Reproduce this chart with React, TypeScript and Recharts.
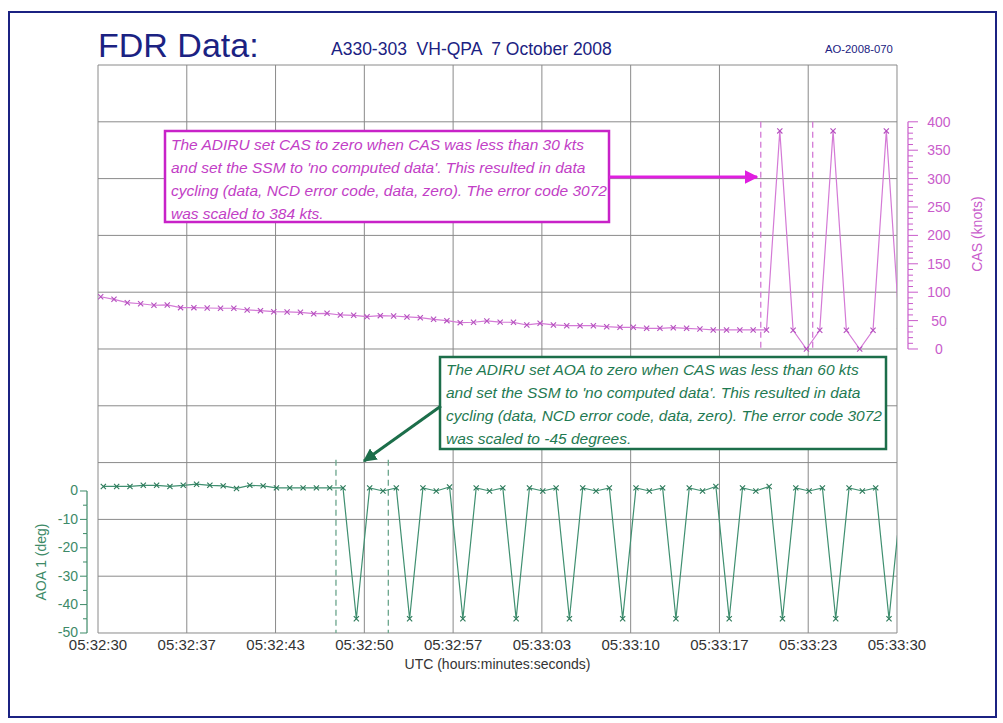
import React from "react";
import { ComposedChart, Line, XAxis, YAxis, CartesianGrid, ReferenceLine } from "recharts";

// page + plot frame
const W = 1003;
const H = 723;
const PLOT_LEFT = 98;
const PLOT_TOP = 65;
const PLOT_RIGHT = 897;
const PLOT_BOTTOM = 633;
const PLOT_H = PLOT_BOTTOM - PLOT_TOP;
const THIN = 0.01; // axes must have a size > 0 to render, keep it ~0

const FONT = "'Liberation Sans', Arial, sans-serif";

// colours
const NAVY = "#1b2282";
const GRID = "#8a8a8a";
const CAS_LINE = "#d47ad6";
const CAS_MARK = "#b54fbf";
const CAS_AXIS = "#c95ccb";
const CAS_NOTE = "#c23ec6";
const CAS_BOX = "#c822c8";
const AOA_LINE = "#3f8f70";
const AOA_MARK = "#2c7a5a";
const AOA_AXIS = "#3d8a68";
const AOA_NOTE = "#1f7a52";
const AOA_BOX = "#1c6e4a";

// axis domains (each grid row = 100 kts / 20 deg)
const CAS_DOMAIN = [-500, 500];
const AOA_DOMAIN = [-50, 150];
const TIME_DOMAIN = [0, 60];

// x axis: seconds after 05:32:30
const timeLabels = [
  "05:32:30", "05:32:37", "05:32:43", "05:32:50", "05:32:57",
  "05:33:03", "05:33:10", "05:33:17", "05:33:23", "05:33:30",
];
const timeTicks = timeLabels.map((_, i) => (i * 60) / 9);
const timeMinorTicks = Array.from({ length: 28 }, (_, i) => (i * 60) / 27);

const casTicks = Array.from({ length: 41 }, (_, i) => i * 10); // 0..400
const aoaTicks = Array.from({ length: 11 }, (_, i) => -50 + i * 5); // -50..0
const gridRows = Array.from({ length: 11 }, (_, i) => -500 + i * 100);
const rowMinorTicks = Array.from({ length: 51 }, (_, i) => i);

// 1 Hz samples
const CAS_OFFSET = 0.2;
const AOA_OFFSET = 0.4;

const casValues = [
  92, 87.5, 81.5, 79.7, 77, 77.5, 72.8, 72.8, 72.2, 71.7,
  71.7, 68.7, 67.5, 65.7, 65.2, 64.6, 62.2, 62.8, 59.9, 59.3,
  56.9, 58.7, 58.1, 56.4, 55.1, 52.3, 49.9, 46.4, 47.1, 49.4,
  47.3, 47, 42.3, 45.2, 42.3, 41, 41, 41, 39.3, 38.2,
  38.2, 36.4, 36.4, 37.5, 36.4, 35.2, 33.5, 33.5, 33.5, 33.5,
  33.5, 384, 33, 0, 33, 384, 33, 0, 33, 384,
  33,
];

const aoaValues = [
  1.6, 1.6, 1.6, 2.0, 2.0, 1.6, 2.0, 2.4, 2.0, 1.8,
  0.9, 2.0, 1.8, 1.1, 1.1, 1.1, 1.1, 1.1, 1.1, -45,
  1.1, 0, 1.1, -45, 1.1, 0, 1.4, -45, 1.1, 0,
  1.1, -45, 1.1, 0, 1.1, -45, 1.1, 0, 1.1, -45,
  1.1, 0, 1.1, -45, 1.1, 0, 1.6, -45, 1.1, 0,
  1.6, -45, 1.1, 0, 1.1, -45, 1.1, 0, 1.1, -45,
  1.1,
];

// dashed markers (seconds)
const casCycleStart = [49.77, 53.67];
const aoaCycleStart = [17.87, 21.8];

const casData = casValues.map((cas, i) => ({ t: i + CAS_OFFSET, cas }));
const aoaData = aoaValues.map((aoa, i) => ({ t: i + AOA_OFFSET, aoa }));

const casStepPx = (PLOT_H * 10) / (CAS_DOMAIN[1] - CAS_DOMAIN[0]);
const aoaStepPx = (PLOT_H * 5) / (AOA_DOMAIN[1] - AOA_DOMAIN[0]);

const makeCross = (color: string) => (props: any) => {
  const { cx, cy, index } = props;
  if (cx == null || cy == null) return <g key={`x-${index}`} />;
  const s = 2.6;
  return (
    <path
      key={`x-${index}`}
      d={`M${cx - s},${cy - s}L${cx + s},${cy + s}M${cx - s},${cy + s}L${cx + s},${cy - s}`}
      stroke={color}
      strokeWidth={1.1}
      fill="none"
    />
  );
};

// CAS scale sits right of the frame, 0..400 only
const CasTick = (props: any) => {
  const { x, y, payload } = props;
  const v = payload.value;
  const ax = x + 11;
  const major = v % 50 === 0;
  return (
    <g>
      {v < 400 && <line x1={ax} x2={ax} y1={y} y2={y - casStepPx} stroke={CAS_AXIS} strokeWidth={1.2} />}
      <line x1={ax} x2={ax + (major ? 10 : 5)} y1={y} y2={y} stroke={CAS_AXIS} strokeWidth={1} />
      {major && (
        <text x={ax + 31} y={y + 5} textAnchor="middle" fill={CAS_AXIS} fontSize={14} fontFamily={FONT}>
          {v}
        </text>
      )}
    </g>
  );
};

// AOA scale left of the frame, -50..0 only
const AoaTick = (props: any) => {
  const { x, y, payload } = props;
  const v = payload.value;
  const ax = x - 11;
  const major = v % 10 === 0;
  return (
    <g>
      {v < 0 && <line x1={ax} x2={ax} y1={y} y2={y - aoaStepPx} stroke={AOA_AXIS} strokeWidth={1.2} />}
      <line x1={ax - (major ? 7 : 4)} x2={ax} y1={y} y2={y} stroke={AOA_AXIS} strokeWidth={1} />
      {major && (
        <text x={ax - 9} y={y + 4.5} textAnchor="end" fill={AOA_AXIS} fontSize={14} fontFamily={FONT}>
          {v}
        </text>
      )}
    </g>
  );
};

const casNote = [
  "The ADIRU set CAS to zero when CAS was less than 30 kts",
  "and set the SSM to 'no computed data'. This resulted in data",
  "cycling (data, NCD error code, data, zero). The error code 3072",
  "was scaled to 384 kts.",
];
const aoaNote = [
  "The ADIRU set AOA to zero when CAS was less than 60 kts",
  "and set the SSM to 'no computed data'. This resulted in data",
  "cycling (data, NCD error code, data, zero). The error code 3072",
  "was scaled to -45 degrees.",
];

const Overlay = () => (
  <svg
    width={W}
    height={H}
    style={{ position: "absolute", left: 0, top: 0, pointerEvents: "none" }}
    fontFamily={FONT}
  >
    <defs>
      <marker id="headPink" viewBox="0 0 10 10" refX="9" refY="5" markerWidth="4.5" markerHeight="4.5" orient="auto">
        <path d="M0,0L10,5L0,10z" fill="#e01ee0" />
      </marker>
      <marker id="headGreen" viewBox="0 0 10 10" refX="9" refY="5" markerWidth="4.5" markerHeight="4.5" orient="auto">
        <path d="M0,0L10,5L0,10z" fill={AOA_BOX} />
      </marker>
    </defs>

    <rect x={9} y={12} width={987} height={705} fill="none" stroke={NAVY} strokeWidth={2} />

    <text x={98} y={57} fontSize={34} fill={NAVY}>FDR Data:</text>
    <text x={331} y={55} fontSize={17.5} fill={NAVY} style={{ whiteSpace: "pre" }}>
      A330-303  VH-QPA  7 October 2008
    </text>
    <text x={825} y={53} fontSize={11.3} fill={NAVY}>AO-2008-070</text>

    <text x={(PLOT_LEFT + PLOT_RIGHT) / 2} y={669} fontSize={14} fill="#333" textAnchor="middle">
      UTC (hours:minutes:seconds)
    </text>
    <text x={0} y={0} fontSize={14} fill={CAS_AXIS} textAnchor="middle" transform="translate(982,234) rotate(-90)">
      CAS (knots)
    </text>
    <text x={0} y={0} fontSize={14} fill={AOA_AXIS} textAnchor="middle" transform="translate(46,562) rotate(-90)">
      AOA 1 (deg)
    </text>

    {/* CAS annotation */}
    <rect x={165} y={131} width={444} height={91} fill="#fff" stroke={CAS_BOX} strokeWidth={2.5} />
    {casNote.map((s, i) => (
      <text key={i} x={171} y={150 + i * 23} fontSize={15.5} fontStyle="italic" fill={CAS_NOTE}>
        {s}
      </text>
    ))}
    <line x1={609} y1={177} x2={757} y2={177} stroke="#e01ee0" strokeWidth={3} markerEnd="url(#headPink)" />

    {/* AOA annotation */}
    <rect x={440} y={357} width={446} height={92} fill="#fff" stroke={AOA_BOX} strokeWidth={2.5} />
    {aoaNote.map((s, i) => (
      <text key={i} x={446} y={375 + i * 23} fontSize={15.5} fontStyle="italic" fill={AOA_NOTE}>
        {s}
      </text>
    ))}
    <line x1={441} y1={406} x2={364} y2={461} stroke={AOA_BOX} strokeWidth={3} markerEnd="url(#headGreen)" />
  </svg>
);

const App = () => {
  return (
    <div style={{ position: "fixed", left: 0, top: 0, width: W, height: H, background: "#fff", fontFamily: FONT }}>
      <ComposedChart
        width={W}
        height={H}
        margin={{ top: PLOT_TOP, left: PLOT_LEFT, right: W - PLOT_RIGHT, bottom: H - PLOT_BOTTOM }}
      >
        <XAxis
          xAxisId="t"
          type="number"
          dataKey="t"
          domain={TIME_DOMAIN}
          allowDataOverflow
          ticks={timeTicks}
          interval={0}
          height={THIN}
          axisLine={false}
          tickLine={false}
          tickSize={0}
          tickMargin={6}
          tick={{ fill: "#333", fontSize: 15, fontFamily: FONT }}
          tickFormatter={(_v: number, i: number) => timeLabels[i]}
        />
        <XAxis xAxisId="topMinor" type="number" orientation="top" mirror domain={TIME_DOMAIN} ticks={timeMinorTicks}
          interval={0} height={THIN} axisLine={false} tick={false} tickSize={4} tickLine={{ stroke: GRID }} />
        <XAxis xAxisId="botMinor" type="number" orientation="bottom" mirror domain={TIME_DOMAIN} ticks={timeMinorTicks}
          interval={0} height={THIN} axisLine={false} tick={false} tickSize={4} tickLine={{ stroke: GRID }} />

        <YAxis
          yAxisId="cas"
          orientation="right"
          type="number"
          domain={CAS_DOMAIN}
          allowDataOverflow
          ticks={casTicks}
          interval={0}
          width={THIN}
          axisLine={false}
          tickLine={false}
          tickSize={0}
          tickMargin={0}
          tick={<CasTick />}
        />
        <YAxis
          yAxisId="aoa"
          orientation="left"
          type="number"
          domain={AOA_DOMAIN}
          allowDataOverflow
          ticks={aoaTicks}
          interval={0}
          width={THIN}
          axisLine={false}
          tickLine={false}
          tickSize={0}
          tickMargin={0}
          tick={<AoaTick />}
        />
        <YAxis yAxisId="leftMinor" type="number" orientation="left" mirror domain={[0, 50]} ticks={rowMinorTicks}
          interval={0} width={THIN} axisLine={false} tick={false} tickSize={4} tickLine={{ stroke: GRID }} />
        <YAxis yAxisId="rightMinor" type="number" orientation="right" mirror domain={[0, 50]} ticks={rowMinorTicks}
          interval={0} width={THIN} axisLine={false} tick={false} tickSize={4} tickLine={{ stroke: GRID }} />

        <CartesianGrid
          xAxisId="t"
          yAxisId="cas"
          stroke={GRID}
          strokeWidth={1}
          verticalValues={timeTicks}
          horizontalValues={gridRows}
        />

        {casCycleStart.map((t) => (
          <ReferenceLine
            key={`c${t}`}
            xAxisId="t"
            yAxisId="cas"
            segment={[{ x: t, y: 400 }, { x: t, y: 0 }]}
            stroke={CAS_LINE}
            strokeWidth={1.3}
            strokeDasharray="6 4"
          />
        ))}
        {aoaCycleStart.map((t) => (
          <ReferenceLine
            key={`a${t}`}
            xAxisId="t"
            yAxisId="aoa"
            segment={[{ x: t, y: 11 }, { x: t, y: -50 }]}
            stroke="#6aa58c"
            strokeWidth={1.3}
            strokeDasharray="6 4"
          />
        ))}

        <Line
          data={casData}
          xAxisId="t"
          yAxisId="cas"
          dataKey="cas"
          type="linear"
          stroke={CAS_LINE}
          strokeWidth={1.2}
          dot={makeCross(CAS_MARK)}
          activeDot={false}
          isAnimationActive={false}
        />
        <Line
          data={aoaData}
          xAxisId="t"
          yAxisId="aoa"
          dataKey="aoa"
          type="linear"
          stroke={AOA_LINE}
          strokeWidth={1.2}
          dot={makeCross(AOA_MARK)}
          activeDot={false}
          isAnimationActive={false}
        />
      </ComposedChart>
      <Overlay />
    </div>
  );
};

export default App;
